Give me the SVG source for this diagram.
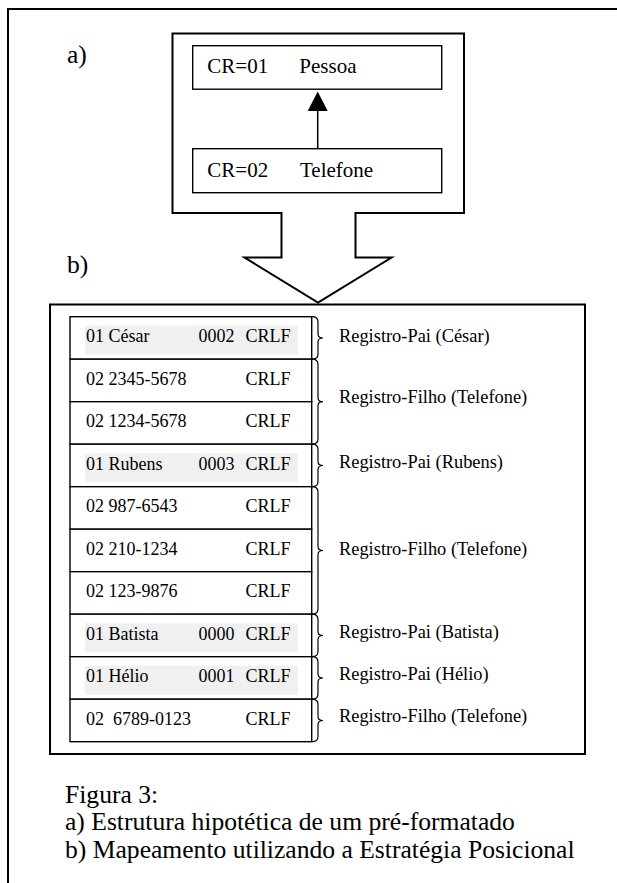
<svg xmlns="http://www.w3.org/2000/svg" width="617" height="883" viewBox="0 0 617 883">
<style>
text { font-family: "Liberation Serif", "Times New Roman", serif; fill: #000; }
.lbl { font-size: 25.6px; }
.cr { font-size: 21px; }
.rec { font-size: 18px; white-space: pre; }
.note { font-size: 18.4px; }
.thick { fill: none; stroke: #000; stroke-width: 2; }
.box { fill: #fff; stroke: #000; stroke-width: 1.4; }
.shade { fill: #f0f0f0; }
.brace { fill: none; stroke: #000; stroke-width: 1.2; }
</style>
<rect width="617" height="883" fill="#fff"/>
<path class="thick" d="M8,883 V9 H617"/>

<text class="lbl" x="67" y="63">a)</text>
<text class="lbl" x="67" y="273">b)</text>

<g id="structure">
<path class="thick" d="M172.5,33.5 H464 V213 H355.5 V257.5 H391.5 L318,302.5 L244.5,257.5 H281.5 V213 H172.5 Z" fill="#fff"/>
</g>

<g id="pessoa">
<rect class="box" x="192.7" y="45.7" width="249" height="43.5"/>
<text class="cr" x="207.3" y="73.3">CR=01</text>
<text class="cr" x="299.3" y="73.3">Pessoa</text>
</g>
<g id="telefone">
<rect class="box" x="192.7" y="148.7" width="249" height="44"/>
<text class="cr" x="207.3" y="176.7">CR=02</text>
<text class="cr" x="300" y="176.7">Telefone</text>
</g>

<g id="connectors">
<path d="M317.7,148.7 V100" stroke="#000" stroke-width="1.5" fill="none"/>
<path d="M317.7,91.5 L327.7,111 L307.7,111 Z" fill="#000"/>
</g>

<g id="mapping">
<rect class="thick" x="50" y="304.5" width="535" height="449.5" fill="#fff"/>
</g>

<g id="records">
<g id="r1"><rect class="box" x="70" y="316.7" width="241.7" height="42.5"/><rect class="shade" x="85" y="325.7" width="213" height="29"/>
<text class="rec" x="86" y="342.2">01 César</text><text class="rec" x="198.5" y="342.2">0002</text><text class="rec" x="245.5" y="342.2">CRLF</text></g>
<g id="r2"><rect class="box" x="70" y="359.2" width="241.7" height="42.5"/>
<text class="rec" x="86" y="384.7">02 2345-5678</text><text class="rec" x="245.5" y="384.7">CRLF</text></g>
<g id="r3"><rect class="box" x="70" y="401.7" width="241.7" height="42.5"/>
<text class="rec" x="86" y="427.2">02 1234-5678</text><text class="rec" x="245.5" y="427.2">CRLF</text></g>
<g id="r4"><rect class="box" x="70" y="444.2" width="241.7" height="42.5"/><rect class="shade" x="85" y="453.2" width="213" height="29"/>
<text class="rec" x="86" y="469.7">01 Rubens</text><text class="rec" x="198.5" y="469.7">0003</text><text class="rec" x="245.5" y="469.7">CRLF</text></g>
<g id="r5"><rect class="box" x="70" y="486.7" width="241.7" height="42.5"/>
<text class="rec" x="86" y="512.2">02 987-6543</text><text class="rec" x="245.5" y="512.2">CRLF</text></g>
<g id="r6"><rect class="box" x="70" y="529.2" width="241.7" height="42.5"/>
<text class="rec" x="86" y="554.7">02 210-1234</text><text class="rec" x="245.5" y="554.7">CRLF</text></g>
<g id="r7"><rect class="box" x="70" y="571.7" width="241.7" height="42.5"/>
<text class="rec" x="86" y="597.2">02 123-9876</text><text class="rec" x="245.5" y="597.2">CRLF</text></g>
<g id="r8"><rect class="box" x="70" y="614.2" width="241.7" height="42.5"/><rect class="shade" x="85" y="623.2" width="213" height="29"/>
<text class="rec" x="86" y="639.7">01 Batista</text><text class="rec" x="198.5" y="639.7">0000</text><text class="rec" x="245.5" y="639.7">CRLF</text></g>
<g id="r9"><rect class="box" x="70" y="656.7" width="241.7" height="42.5"/><rect class="shade" x="85" y="665.7" width="213" height="29"/>
<text class="rec" x="86" y="682.2">01 Hélio</text><text class="rec" x="198.5" y="682.2">0001</text><text class="rec" x="245.5" y="682.2">CRLF</text></g>
<g id="r10"><rect class="box" x="70" y="699.2" width="241.7" height="42.5"/>
<text class="rec" x="86" y="724.7">02  6789-0123</text><text class="rec" x="245.5" y="724.7">CRLF</text></g>
</g>

<g id="braces">
<path class="brace" d="M312,316.7 Q318,316.7 318,322 V334 Q318,338 323,338 Q318,338 318,342 V354 Q318,359.2 312,359.2"/>
<path class="brace" d="M312,359.2 Q318,359.2 318,364.5 V397.7 Q318,401.7 323,401.7 Q318,401.7 318,405.7 V439 Q318,444.2 312,444.2"/>
<path class="brace" d="M312,444.2 Q318,444.2 318,449.5 V461.5 Q318,465.5 323,465.5 Q318,465.5 318,469.5 V481.5 Q318,486.7 312,486.7"/>
<path class="brace" d="M312,486.7 Q318,486.7 318,492 V546.5 Q318,550.5 323,550.5 Q318,550.5 318,554.5 V609 Q318,614.2 312,614.2"/>
<path class="brace" d="M312,614.2 Q318,614.2 318,619.5 V631.5 Q318,635.5 323,635.5 Q318,635.5 318,639.5 V651.5 Q318,656.7 312,656.7"/>
<path class="brace" d="M312,656.7 Q318,656.7 318,662 V674 Q318,678 323,678 Q318,678 318,682 V694 Q318,699.2 312,699.2"/>
<path class="brace" d="M312,699.2 Q318,699.2 318,704.5 V716.5 Q318,720.5 323,720.5 Q318,720.5 318,724.5 V736.5 Q318,741.7 312,741.7"/>
</g>

<g id="labels">
<text class="note" x="339" y="341.7">Registro-Pai (César)</text>
<text class="note" x="339" y="403.3">Registro-Filho (Telefone)</text>
<text class="note" x="339" y="468.3">Registro-Pai (Rubens)</text>
<text class="note" x="339" y="555">Registro-Filho (Telefone)</text>
<text class="note" x="339" y="638.3">Registro-Pai (Batista)</text>
<text class="note" x="339" y="680">Registro-Pai (Hélio)</text>
<text class="note" x="339" y="721.7">Registro-Filho (Telefone)</text>
</g>

<g id="caption">
<text class="lbl" x="65" y="803">Figura 3:</text>
<text class="lbl" x="65" y="830">a) Estrutura hipotética de um pré-formatado</text>
<text class="lbl" x="65" y="858">b) Mapeamento utilizando a Estratégia Posicional</text>
</g>
</svg>
